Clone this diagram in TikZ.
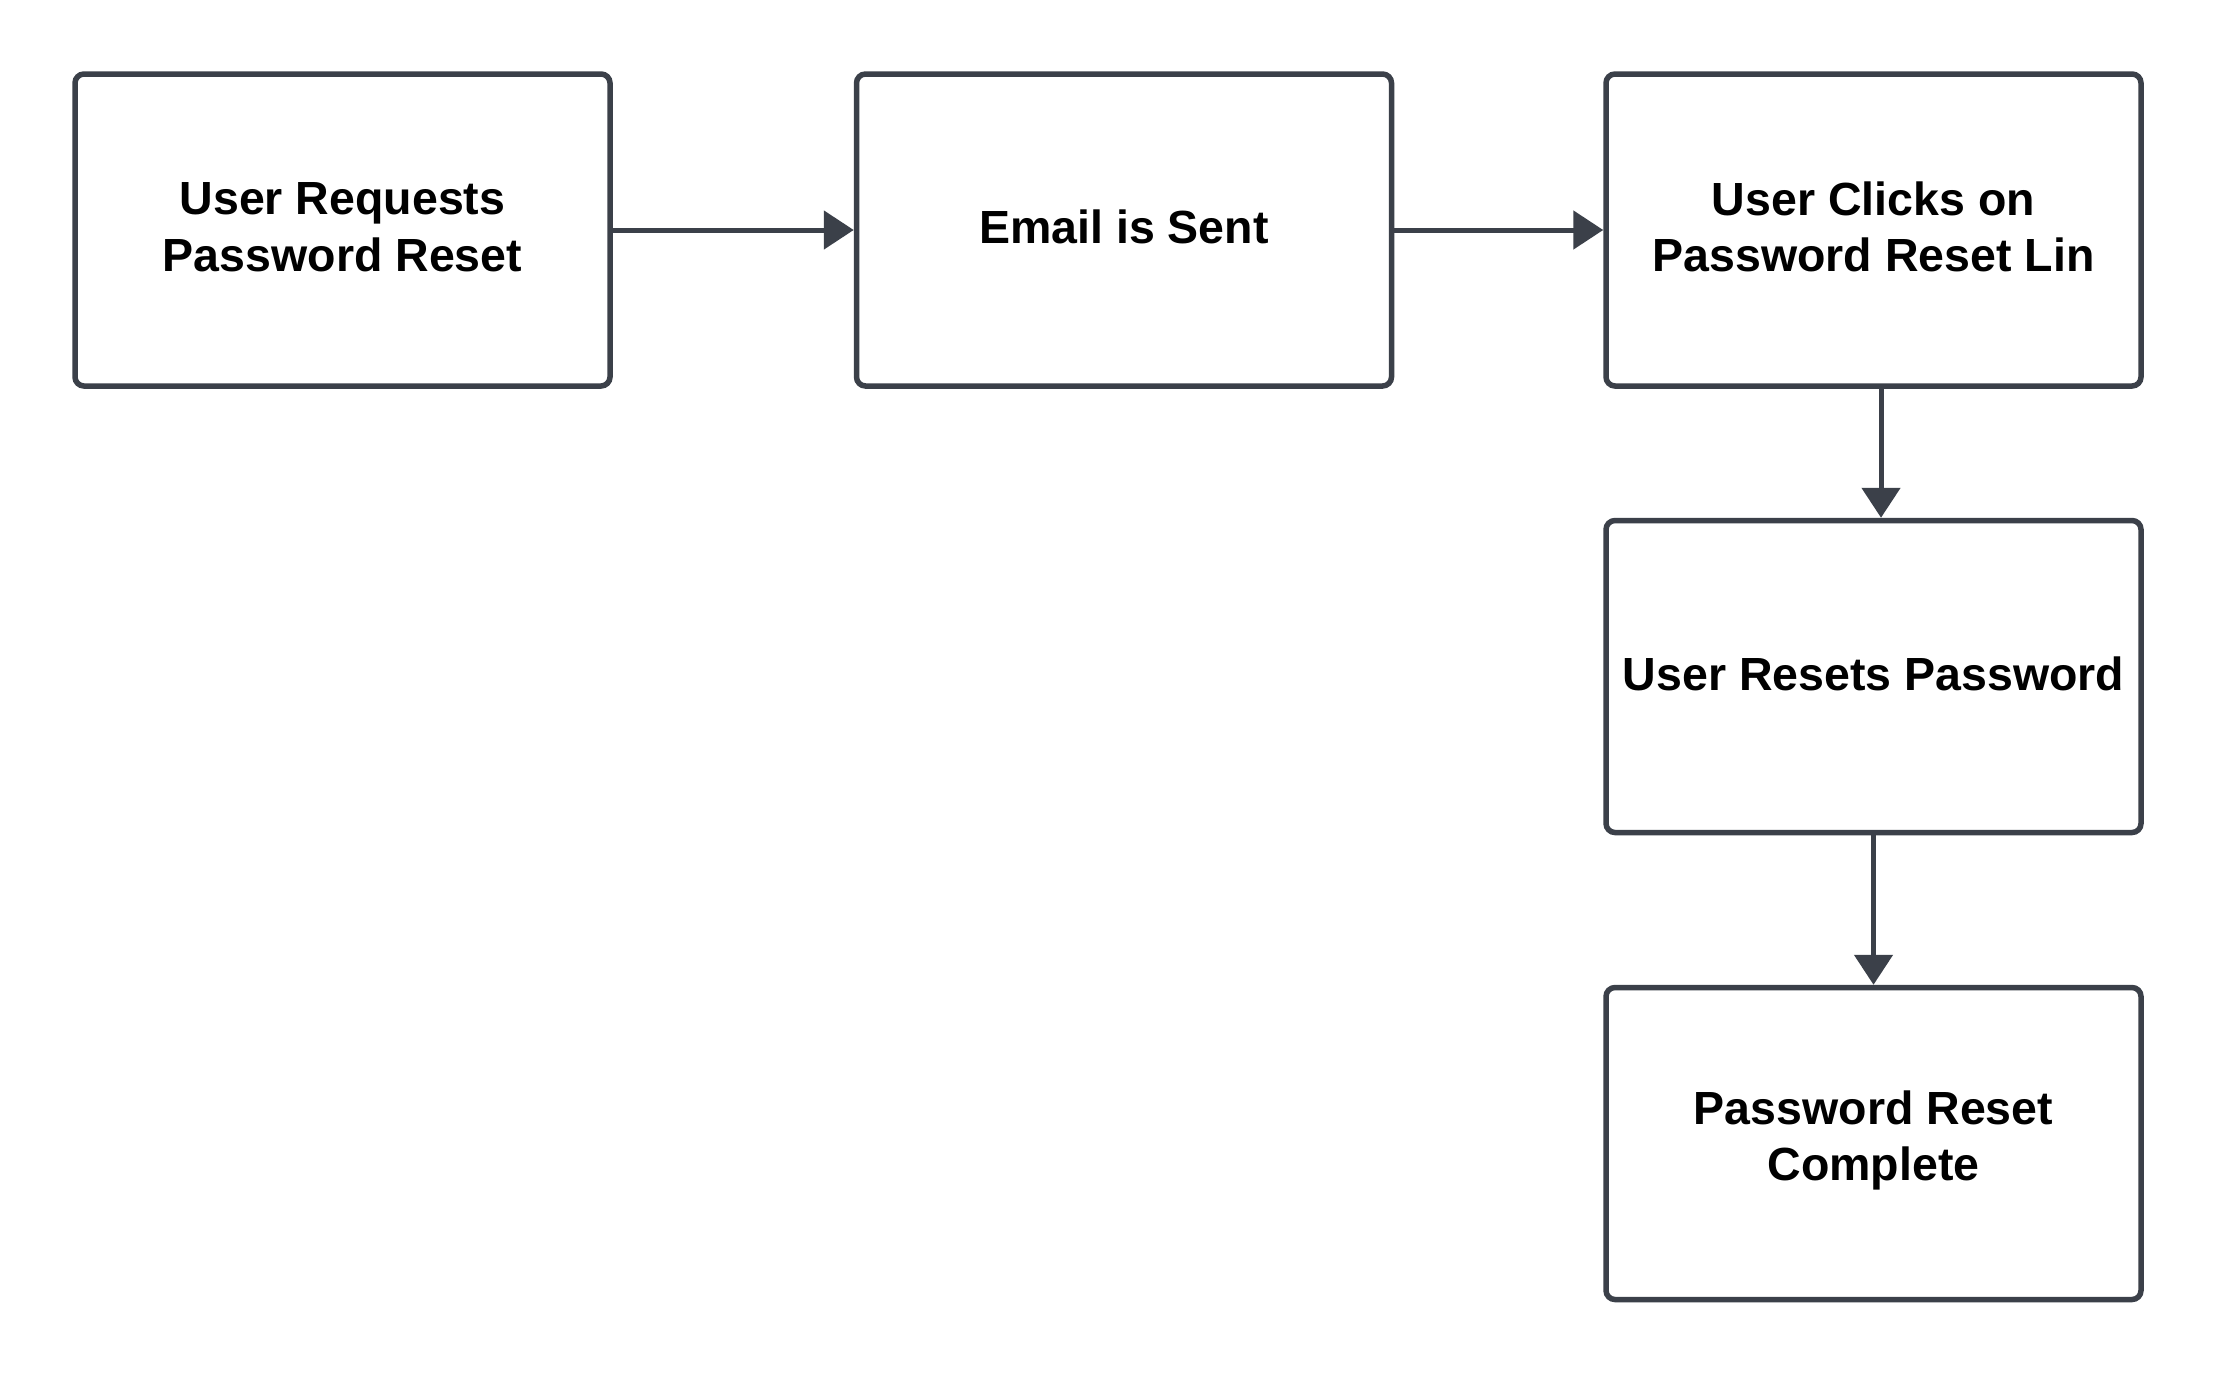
\documentclass[tikz,border=0pt]{standalone}
\usepackage{fontspec}
\setmainfont{Liberation Sans}
\usetikzlibrary{arrows.meta}
\definecolor{edge}{HTML}{3B4049}
\begin{document}
\begin{tikzpicture}[x=1pt,y=-1pt,
  box/.style={draw=edge, line width=5.5pt, rounded corners=9pt, fill=white,
    minimum width=535pt, minimum height=312pt, inner sep=0pt},
  lbl/.style={align=center, text=black, inner sep=0pt, yshift=3pt,
    font=\fontsize{46.5}{56.5}\selectfont\bfseries},
  conn/.style={draw=edge, line width=5pt, -{Triangle[length=30pt,width=38pt]}}]
\useasboundingbox (0,0) rectangle (2218,1376);
\fill[white] (0,0) rectangle (2218,1376);
\node[box, label={[lbl]center:User Requests\\Password Reset}] (b1) at (342.5,230) {};
\node[box, label={[lbl]center:Email is Sent}] (b2) at (1124,230) {};
\node[box, label={[lbl]center:User Clicks on\\Password Reset Lin}] (b3) at (1873.5,230) {};
\node[box, label={[lbl]center:User Resets Password}] (b4) at (1873.5,676.5) {};
\node[box, label={[lbl]center:Password Reset\\Complete}] (b5) at (1873.5,1143.5) {};
\draw[conn] (b1.east) -- (b2.west);
\draw[conn] (b2.east) -- (b3.west);
\draw[conn] ([xshift=7.5pt]b3.south) -- ([xshift=7.5pt]b4.north);
\draw[conn] (b4.south) -- (b5.north);
\end{tikzpicture}
\end{document}
